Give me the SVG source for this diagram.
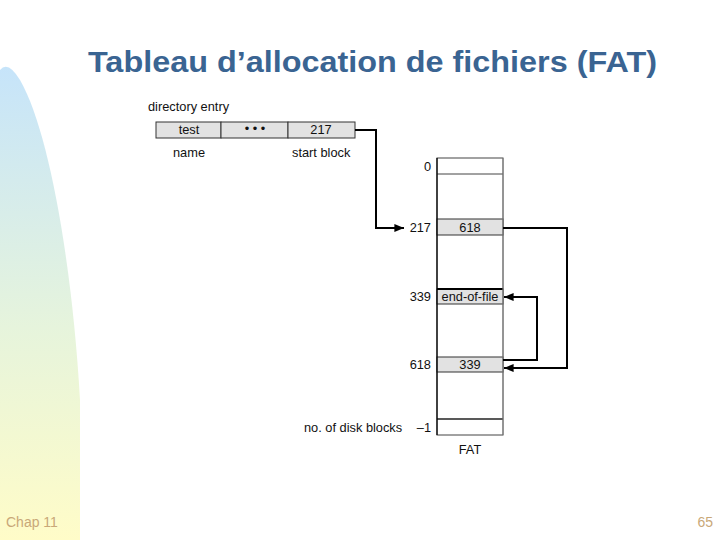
<svg xmlns="http://www.w3.org/2000/svg" width="720" height="540" viewBox="0 0 720 540">
<defs>
<linearGradient id="bg" x1="0" y1="0" x2="0" y2="1">
<stop offset="0" stop-color="#c6e4fa"/>
<stop offset="0.55" stop-color="#e6f4dc"/>
<stop offset="1" stop-color="#fffcc8"/>
</linearGradient>
<marker id="ah" viewBox="0 0 12 10" refX="12" refY="5" markerWidth="12" markerHeight="8" markerUnits="userSpaceOnUse" orient="auto">
<path d="M0,0 L12,5 L0,10 Z" fill="#000"/>
</marker>
<style>
.lbl{font-family:"Liberation Sans",Arial,sans-serif;font-size:12.8px;fill:#111}
.cell{fill:#e2e2e2;stroke:#333;stroke-width:1}
.row{fill:#fff;stroke:#444;stroke-width:1}
.conn{fill:none;stroke:#000;stroke-width:2}
.foot{font-family:"Liberation Sans",Arial,sans-serif;font-size:14px;fill:#c9a878}
</style>
</defs>
<rect width="720" height="540" fill="#fff"/>
<path d="M0,540 L0,70 Q8,60 20,80 C48,128 72,260 80,400 L80,540 Z" fill="url(#bg)"/>
<text x="372.5" y="72" text-anchor="middle" font-family="'Liberation Sans',Arial,sans-serif" font-size="29" font-weight="bold" fill="#3a6492" textLength="569" lengthAdjust="spacingAndGlyphs">Tableau d’allocation de fichiers (FAT)</text>

<g id="directory-entry">
<text class="lbl" x="148" y="111">directory entry</text>
<rect class="cell" x="156" y="122" width="65" height="16"/>
<rect class="cell" x="221" y="122" width="67" height="16"/>
<rect class="cell" x="288" y="122" width="67" height="16"/>
<text class="lbl" x="189" y="134" text-anchor="middle">test</text>
<text class="lbl" x="255" y="133" text-anchor="middle" font-size="8">•  •  •</text>
<text class="lbl" x="321" y="134" text-anchor="middle">217</text>
<text class="lbl" x="173" y="157">name</text>
<text class="lbl" x="292" y="157">start block</text>
</g>

<g id="fat">
<rect class="row" x="437" y="158" width="66" height="277"/>
<line x1="437" y1="174" x2="503" y2="174" stroke="#444"/>
<rect class="cell" x="437" y="219" width="66" height="16"/>
<rect class="cell" x="437" y="289" width="66" height="15"/>
<line x1="437" y1="289" x2="503" y2="289" stroke="#000" stroke-width="2"/>
<rect class="cell" x="437" y="357" width="66" height="15"/>
<line x1="437" y1="419" x2="503" y2="419" stroke="#222" stroke-width="1.5"/>
<line x1="437" y1="158" x2="437" y2="435" stroke="#000" stroke-width="1.2"/>
<line x1="503" y1="158" x2="503" y2="435" stroke="#888" stroke-width="1"/>
<text class="lbl" x="470" y="232" text-anchor="middle">618</text>
<text class="lbl" x="470" y="301" text-anchor="middle">end-of-file</text>
<text class="lbl" x="470" y="369" text-anchor="middle">339</text>
<text class="lbl" x="431" y="171" text-anchor="end">0</text>
<text class="lbl" x="431" y="232" text-anchor="end">217</text>
<text class="lbl" x="431" y="301" text-anchor="end">339</text>
<text class="lbl" x="431" y="369" text-anchor="end">618</text>
<text class="lbl" x="431" y="432" text-anchor="end">–1</text>
<text class="lbl" x="304" y="432">no. of disk blocks</text>
<text class="lbl" x="470" y="454" text-anchor="middle">FAT</text>
</g>

<g id="connectors">
<path class="conn" d="M355,130 H376 V228 H404" marker-end="url(#ah)"/>
<path class="conn" d="M503,228 H567 V368 H504" marker-end="url(#ah)"/>
<path class="conn" d="M503,360 H537 V297 H504" marker-end="url(#ah)"/>
</g>

<text class="foot" x="6" y="527">Chap 11</text>
<text class="foot" x="713" y="527" text-anchor="end">65</text>
</svg>
